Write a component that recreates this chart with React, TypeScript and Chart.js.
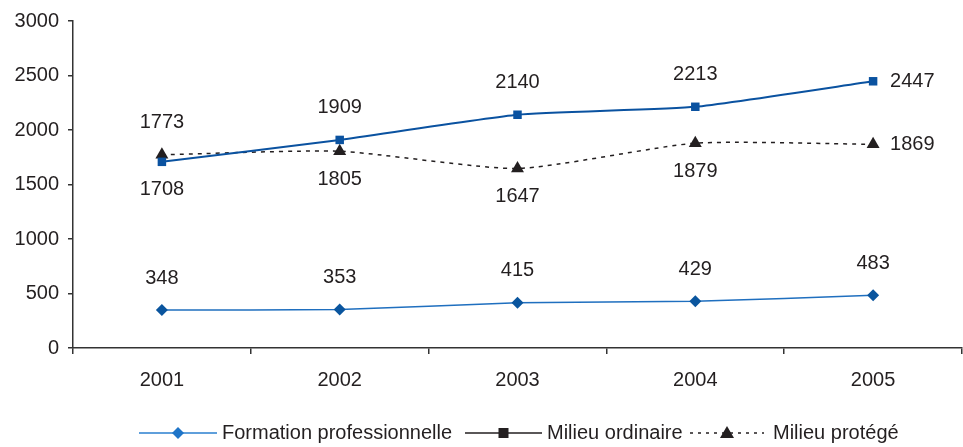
import React, { useEffect, useRef } from "react";
import { Chart, registerables } from "chart.js";

Chart.register(...registerables);

const years = ["2001", "2002", "2003", "2004", "2005"];
const formationPro = [348, 353, 415, 429, 483];
const milieuOrdinaire = [1708, 1909, 2140, 2213, 2447];
const milieuProtege = [1773, 1805, 1647, 1879, 1869];
const seriesNames = ["Formation professionnelle", "Milieu ordinaire", "Milieu protégé"];
const formationLabelPos = ["above", "above", "above", "above", "above"];
const ordinaireLabelPos = ["below", "above", "above", "above", "right"];
const protegeLabelPos = ["above", "below", "below", "below", "right"];

const FONT = "'Liberation Sans', Arial, sans-serif";
const TEXT = "#231f20";
const FS = 20;

export default function App() {
  const ref = useRef<HTMLCanvasElement | null>(null);

  useEffect(() => {
    document.body.style.margin = "0";
    const canvas = ref.current;
    if (!canvas) return;

    const labelPositions = [formationLabelPos, ordinaireLabelPos, protegeLabelPos];

    const dataLabels = {
      id: "dataLabels",
      afterDatasetsDraw(chart: any) {
        const ctx = chart.ctx;
        ctx.save();
        ctx.font = `${FS}px ${FONT}`;
        ctx.fillStyle = TEXT;
        ctx.textBaseline = "middle";
        chart.data.datasets.forEach((ds: any, i: number) => {
          const meta = chart.getDatasetMeta(i);
          meta.data.forEach((pt: any, j: number) => {
            const pos = labelPositions[i][j];
            const txt = String(ds.data[j]);
            let x = pt.x;
            let y = pt.y;
            if (pos === "above") {
              ctx.textAlign = "center";
              y -= 32;
            } else if (pos === "below") {
              ctx.textAlign = "center";
              y += 28;
            } else {
              ctx.textAlign = "left";
              x += 17;
            }
            ctx.fillText(txt, x, y);
          });
        });
        ctx.restore();
      },
    };

    const customLegend = {
      id: "customLegend",
      afterDraw(chart: any) {
        const ctx = chart.ctx;
        ctx.save();
        ctx.font = `${FS}px ${FONT}`;
        ctx.textBaseline = "middle";
        ctx.textAlign = "left";
        const y = 433;
        const items = [
          { x0: 139, x1: 217, tx: 222, color: "#2a7fcf", mcolor: "#1f75c8", dash: [] as number[], marker: "diamond" },
          { x0: 465, x1: 542, tx: 547, color: "#231f20", mcolor: "#231f20", dash: [] as number[], marker: "square" },
          { x0: 690, x1: 764, tx: 773, color: "#231f20", mcolor: "#231f20", dash: [3, 5], marker: "triangle" },
        ];
        items.forEach((it, i) => {
          ctx.strokeStyle = it.color;
          ctx.lineWidth = 1.5;
          ctx.setLineDash(it.dash);
          ctx.beginPath();
          ctx.moveTo(it.x0, y);
          ctx.lineTo(it.x1, y);
          ctx.stroke();
          ctx.setLineDash([]);
          const cx = (it.x0 + it.x1) / 2;
          ctx.fillStyle = it.mcolor;
          ctx.beginPath();
          if (it.marker === "diamond") {
            ctx.moveTo(cx, y - 6);
            ctx.lineTo(cx + 6, y);
            ctx.lineTo(cx, y + 6);
            ctx.lineTo(cx - 6, y);
            ctx.closePath();
          } else if (it.marker === "square") {
            ctx.rect(cx - 5, y - 5, 10, 10);
          } else {
            ctx.moveTo(cx, y - 7);
            ctx.lineTo(cx + 7, y + 5);
            ctx.lineTo(cx - 7, y + 5);
            ctx.closePath();
          }
          ctx.fill();
          ctx.fillStyle = TEXT;
          ctx.fillText(seriesNames[i], it.tx, y);
        });
        ctx.restore();
      },
    };

    const chart = new Chart(canvas, {
      type: "line",
      data: {
        labels: years,
        datasets: [
          {
            label: seriesNames[0],
            data: formationPro,
            borderColor: "#1f6fbf",
            backgroundColor: "#0a559e",
            borderWidth: 1.5,
            pointStyle: "rectRot",
            pointRadius: 6,
            pointBorderWidth: 0,
            tension: 0.15,
          },
          {
            label: seriesNames[1],
            data: milieuOrdinaire,
            borderColor: "#0a52a0",
            backgroundColor: "#0a52a0",
            borderWidth: 2,
            pointStyle: "rect",
            pointRadius: 6,
            pointBorderWidth: 0,
            tension: 0.15,
          },
          {
            label: seriesNames[2],
            data: milieuProtege,
            borderColor: "#231f20",
            backgroundColor: "#231f20",
            borderWidth: 1.5,
            borderDash: [4, 5],
            pointStyle: "triangle",
            pointRadius: 7.5,
            pointBorderWidth: 0,
            tension: 0.2,
          },
        ],
      },
      options: {
        responsive: false,
        animation: false,
        layout: { autoPadding: false, padding: { top: 20, right: 1, left: 0, bottom: 0 } },
        plugins: {
          legend: { display: false },
          tooltip: { enabled: false },
        },
        scales: {
          x: {
            offset: true,
            grid: {
              offset: true,
              drawOnChartArea: false,
              drawTicks: true,
              tickLength: 6,
              color: "#333",
              lineWidth: 1.5,
            },
            border: { color: "#333", width: 1.5 },
            ticks: { font: { family: FONT, size: FS }, color: TEXT, padding: 14 },
            afterFit(scale: any) {
              scale.height = 99;
              scale.paddingRight = 0;
              scale.paddingLeft = 0;
            },
          },
          y: {
            min: 0,
            max: 3000,
            ticks: {
              stepSize: 500,
              font: { family: FONT, size: FS },
              color: TEXT,
              padding: 9,
              callback: (v: any) => String(v),
            },
            grid: {
              drawOnChartArea: false,
              drawTicks: true,
              tickLength: 5,
              color: "#333",
              lineWidth: 1.5,
            },
            border: { color: "#333", width: 1.5 },
            afterFit(scale: any) {
              scale.width = 73;
            },
          },
        },
      },
      plugins: [dataLabels, customLegend],
    } as any);

    return () => chart.destroy();
  }, []);

  return (
    <div style={{ width: 963, height: 447 }}>
      <canvas ref={ref} width={963} height={447} style={{ display: "block" }} />
    </div>
  );
}
